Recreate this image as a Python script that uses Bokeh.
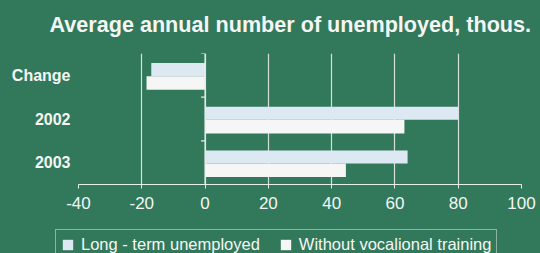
from bokeh.plotting import figure
from bokeh.layouts import column
from bokeh.models import Range1d, FixedTicker, Span, Legend, LegendItem, ColumnDataSource, Label
from bokeh.embed import file_html
from bokeh.resources import INLINE

# ---- data ----
categories = ["Change", "2002", "2003"]
long_term = [-17, 80, 64]
without_training = [-18.5, 63, 44.5]
x_ticks = [-40, -20, 0, 20, 40, 60, 80, 100]
series_names = ["Long - term unemployed", "Without vocalional training"]
title_text = "Average annual number of unemployed, thous."

# ---- style ----
BG = "#32795c"
TXT = "#f4f6f5"
C_LONG = "#dde9f2"
C_WITH = "#f6f6f6"
GRID = "#d5dfda"
AX = "#e8eeeb"
FONT = "Liberation Sans"

W = 540
H_T, H_P, H_L = 38, 190, 25          # title strip, chart, legend strip
BL, BR, BT, BB = 78, 19, 15, 44
XMIN, XMAX = -40, 100


def strip(height):
    f = figure(width=W, height=height, output_backend="svg", toolbar_location=None,
               x_range=Range1d(0, W), y_range=Range1d(height, 0),
               x_axis_type=None, y_axis_type=None,
               min_border_left=0, min_border_right=0, min_border_top=0, min_border_bottom=0)
    f.frame_align = False
    f.background_fill_color = BG
    f.border_fill_color = BG
    f.outline_line_color = None
    return f


# ---- title strip ----
t = strip(H_T)
t.add_layout(Label(x=49, y=23.5, text=title_text, text_font=FONT, text_font_size="21.6px",
                   text_font_style="bold", text_color=TXT, text_baseline="middle",
                   text_align="left"))

# ---- main chart ----
p = figure(width=W, height=H_P, output_backend="svg", toolbar_location=None,
           x_range=Range1d(XMIN, XMAX), y_range=Range1d(len(categories), 0),
           min_border_left=BL, min_border_right=BR, min_border_top=BT,
           min_border_bottom=BB)
p.frame_align = False
p.background_fill_color = BG
p.border_fill_color = BG
p.outline_line_color = None

centers = [i + 0.5 for i in range(len(categories))]
src = ColumnDataSource(dict(
    cat=categories,
    y_long=[c - 0.13 for c in centers],
    y_with=[c + 0.175 for c in centers],
    long=long_term,
    wout=without_training,
))

p.hbar(y="y_long", right="long", left=0, height=0.30, source=src,
       fill_color=C_LONG, line_color=None)
p.hbar(y="y_with", right="wout", left=0, height=0.31, source=src,
       fill_color=C_WITH, line_color=None)

# zero line and category boundary ticks
p.add_layout(Span(location=0, dimension="height", line_color=AX, line_width=1.2))
frame_w = W - BL - BR
tick_len = 4 * (XMAX - XMIN) / frame_w
bounds = list(range(len(categories) + 1))
p.segment(x0=[-tick_len] * len(bounds), x1=[0] * len(bounds), y0=bounds, y1=bounds,
          line_color=AX, line_width=1.2)

# x axis
xa = p.xaxis[0]
xa.ticker = FixedTicker(ticks=x_ticks)
xa.major_label_overrides = {tk: (f"-{abs(tk)}" if tk < 0 else str(tk)) for tk in x_ticks}
xa.axis_line_color = AX
xa.major_tick_line_color = AX
xa.major_tick_out = 4
xa.major_tick_in = 0
xa.minor_tick_line_color = None
xa.major_label_text_font = FONT
xa.major_label_text_font_size = "17px"
xa.major_label_text_color = TXT
xa.major_label_standoff = 8

# y axis (labels only)
ya = p.yaxis[0]
ya.ticker = FixedTicker(ticks=centers)
ya.major_label_overrides = {c: n for c, n in zip(centers, categories)}
ya.axis_line_color = None
ya.major_tick_line_color = None
ya.minor_tick_line_color = None
ya.major_tick_out = 0
ya.major_tick_in = 0
ya.major_label_standoff = 8
ya.major_label_text_font = FONT
ya.major_label_text_font_size = "16px"
ya.major_label_text_font_style = "bold"
ya.major_label_text_color = TXT

p.xgrid.ticker = FixedTicker(ticks=x_ticks)
p.xgrid.grid_line_color = GRID
p.xgrid.grid_line_width = 1.2
p.ygrid.grid_line_color = None

# ---- legend strip below the chart ----
q = strip(H_L)
q.y_range = Range1d(100, 101)   # keeps the key renderers' bars out of view
k1 = q.hbar(y="y_long", right="long", left=0, height=0.30, source=src,
            fill_color=C_LONG, line_color=None)
k2 = q.hbar(y="y_with", right="wout", left=0, height=0.31, source=src,
            fill_color=C_WITH, line_color=None)

legend = Legend(items=[LegendItem(label=series_names[0], renderers=[k1]),
                       LegendItem(label=series_names[1], renderers=[k2])],
                orientation="horizontal", location=(55, -7))
legend.margin = 0
legend.background_fill_alpha = 0
legend.border_line_color = AX
legend.border_line_width = 1
legend.padding = 5
legend.spacing = 19
legend.label_standoff = 7
legend.glyph_width = 13
legend.glyph_height = 13
legend.label_height = 16
legend.label_text_font = FONT
legend.label_text_font_size = "16.5px"
legend.label_text_color = TXT
q.add_layout(legend, "center")

layout = column(t, p, q, spacing=0)
layout.styles = {"background-color": BG}
html = file_html(layout, INLINE)
css = f"<style>html, body {{ background-color: {BG} !important; }}</style>"
html = html.replace("</head>", css + "</head>", 1)
open("out.html", "w").write(html)
